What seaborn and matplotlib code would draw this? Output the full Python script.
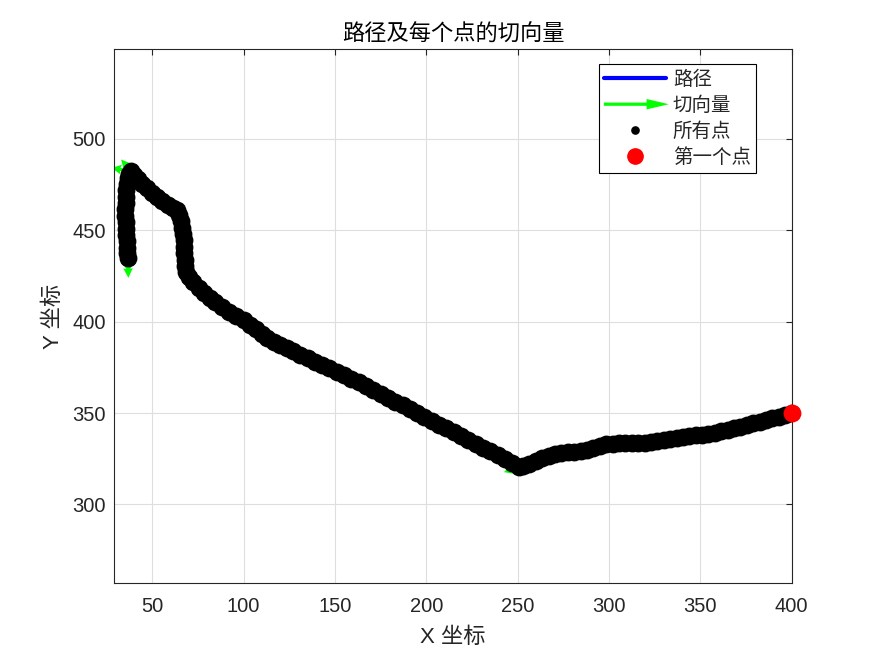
import numpy as np
import pandas as pd
import matplotlib
matplotlib.use("Agg")
import matplotlib.pyplot as plt
import seaborn as sns
from matplotlib.lines import Line2D
import matplotlib.patches as mpatches
from matplotlib.legend_handler import HandlerPatch

# ---------------- data ----------------
path_x = [
    400.0, 396.5, 393.0, 389.5, 386.0, 382.5, 379.0, 375.5, 372.0, 368.5,
    365.0, 361.5, 358.0, 354.5, 351.0, 347.5, 344.0, 340.5, 337.0, 333.5,
    330.0, 326.5, 323.0, 319.5, 316.0, 312.5, 309.0, 305.5, 302.0, 298.5,
    295.0, 291.5, 288.0, 284.5, 281.0, 277.5, 274.0, 270.5, 267.0, 263.5,
    260.0, 256.5, 253.0, 251.0,
    247.0, 243.0, 239.0, 235.0, 231.0, 227.0, 223.0, 219.0, 215.0, 211.0,
    207.0, 203.0, 199.0, 195.0, 191.0, 187.0, 183.0, 179.0, 175.0, 171.0,
    167.0, 163.0, 159.0, 155.0, 151.0, 147.0, 143.0, 139.0, 135.0, 131.0,
    127.0, 123.5, 120.0, 116.5, 113.0, 110.0, 107.0, 103.5, 100.0, 96.0,
    92.0, 88.0, 84.5, 81.5, 78.5, 75.5, 72.5, 70.0, 68.3,
    68.0, 67.8, 67.6, 67.4, 67.1, 66.8, 66.4, 65.8, 64.8, 63.3, 61.3,
    58.5, 55.5, 52.5, 49.7, 47.0, 44.5, 42.2, 40.2, 38.6,
    37.3, 36.5, 36.0, 35.7, 35.5, 35.4, 35.3, 35.3, 35.4, 35.6,
    35.8, 36.0, 36.2, 36.4, 36.5,
]
path_y = [
    349.9, 349.0, 348.1, 347.2, 346.3, 345.3, 344.4, 343.4, 342.5, 341.7,
    340.8, 339.9, 339.1, 338.5, 338.1, 337.8, 337.4, 336.8, 336.3, 335.9,
    335.4, 334.8, 334.2, 333.8, 333.6, 333.5, 333.4, 333.4, 333.2, 332.9,
    332.2, 331.0, 329.9, 329.1, 328.7, 328.4, 327.9, 327.4, 326.6, 325.4,
    323.8, 322.3, 320.9, 320.6,
    322.6, 324.8, 326.9, 329.0, 331.0, 333.1, 335.2, 337.4, 339.5, 341.6,
    343.7, 345.8, 347.9, 350.0, 352.1, 354.2, 356.3, 358.4, 360.5, 362.6,
    364.7, 366.8, 368.8, 370.7, 372.6, 374.5, 376.3, 378.1, 379.9, 381.8,
    383.7, 385.5, 387.2, 389.0, 390.8, 393.2, 396.0, 398.4, 400.8, 402.9,
    405.5, 408.0, 410.6, 412.9, 415.6, 418.5, 421.6, 424.5, 427.3,
    430.5, 434.0, 437.5, 441.0, 444.5, 448.0, 451.5, 455.0, 458.3, 461.0, 462.4,
    463.8, 465.8, 468.0, 470.5, 473.0, 475.6, 478.2, 480.5, 482.3,
    481.0, 478.5, 475.5, 472.0, 468.5, 465.0, 461.5, 458.0, 454.5, 451.0,
    447.5, 444.0, 440.5, 437.5, 435.0,
]

title_text = "路径及每个点的切向量"
xlabel_text = "X 坐标"
ylabel_text = "Y 坐标"
legend_labels = ["路径", "切向量", "所有点", "第一个点"]
x_ticks = [50, 100, 150, 200, 250, 300, 350, 400]
y_ticks = [300, 350, 400, 450, 500]

# ---------------- style ----------------
sns.set_theme(style="white")
plt.rcParams["font.family"] = ["Liberation Sans", "Noto Sans CJK SC", "DejaVu Sans"]
plt.rcParams["axes.unicode_minus"] = False

DARK = "#262626"
fig = plt.figure(figsize=(8.75, 6.56), dpi=100)
ax = fig.add_axes([0.1306, 0.1108, 0.7741, 0.8141])

df = pd.DataFrame({"x": path_x, "y": path_y})

# path (blue line)
sns.lineplot(data=df, x="x", y="y", sort=False, estimator=None,
             color="#0000ff", linewidth=3, ax=ax, zorder=1)

# tangent vectors
xa = np.asarray(path_x, float)
ya = np.asarray(path_y, float)
dx = np.gradient(xa)
dy = np.gradient(ya)
nrm = np.hypot(dx, dy)
L = 11.0
ax.quiver(xa, ya, dx / nrm * L, dy / nrm * L, angles="xy", scale_units="xy",
          scale=1, color="#00ff00", units="dots", width=3.2,
          headwidth=3, headlength=3, headaxislength=2.7, zorder=2)

# all points
sns.scatterplot(data=df, x="x", y="y", color="black", s=165, linewidth=0,
                ax=ax, zorder=3)
# first point
sns.scatterplot(x=[path_x[0]], y=[path_y[0]], color="#ff0000", s=165,
                linewidth=0, ax=ax, zorder=4, clip_on=False)

ax.set_xlim(29.2, 400)
ax.set_ylim(256.8, 549.1)
ax.set_xticks(x_ticks)
ax.set_yticks(y_ticks)
ax.grid(True, color="#dedede", linewidth=0.8)
ax.set_axisbelow(True)
for s in ax.spines.values():
    s.set_visible(True)
    s.set_color(DARK)
    s.set_linewidth(0.8)
ax.tick_params(axis="both", which="major", direction="in", length=4.2,
               width=0.8, color=DARK, labelcolor=DARK, labelsize=14.5,
               top=True, right=True)
ax.tick_params(axis="x", pad=10)
ax.tick_params(axis="y", pad=6)

ax.set_xlabel(xlabel_text, fontsize=16, color=DARK, labelpad=8)
ax.set_ylabel(ylabel_text, fontsize=16, color=DARK, labelpad=6)
ax.set_title(title_text, fontsize=16, color="black", pad=6,
             family=["Noto Sans CJK SC", "DejaVu Sans"])


class HandlerArrow(HandlerPatch):
    def create_artists(self, legend, orig_handle, xdescent, ydescent,
                       width, height, fontsize, trans):
        yc = height / 2 - ydescent
        arr = mpatches.FancyArrow(-xdescent, yc, width + 2, 0, width=2.3,
                                  head_width=7.5, head_length=16,
                                  length_includes_head=True,
                                  color="#00ff00", linewidth=0)
        arr.set_transform(trans)
        return [arr]


h_path = Line2D([], [], color="#0000ff", linewidth=3)
h_arrow = mpatches.Patch(color="#00ff00")
h_pts = Line2D([], [], marker="o", linestyle="none", color="black",
               markersize=5.2)
h_first = Line2D([], [], marker="o", linestyle="none", color="#ff0000",
                 markersize=11)
leg = ax.legend([h_path, h_arrow, h_pts, h_first], legend_labels,
                handler_map={h_arrow: HandlerArrow()},
                loc="upper right", bbox_to_anchor=(755.7 / 875, 1 - 64.3 / 656),
                bbox_transform=fig.transFigure, borderaxespad=0,
                prop={"family": ["Noto Sans CJK SC"], "size": 14},
                frameon=True, fancybox=False, shadow=False, framealpha=1,
                edgecolor="black", handlelength=3.2, handletextpad=0.35,
                borderpad=0.25, labelspacing=0.25, numpoints=1)
leg.get_frame().set_linewidth(0.8)

fig.savefig("out.png", dpi=100)
